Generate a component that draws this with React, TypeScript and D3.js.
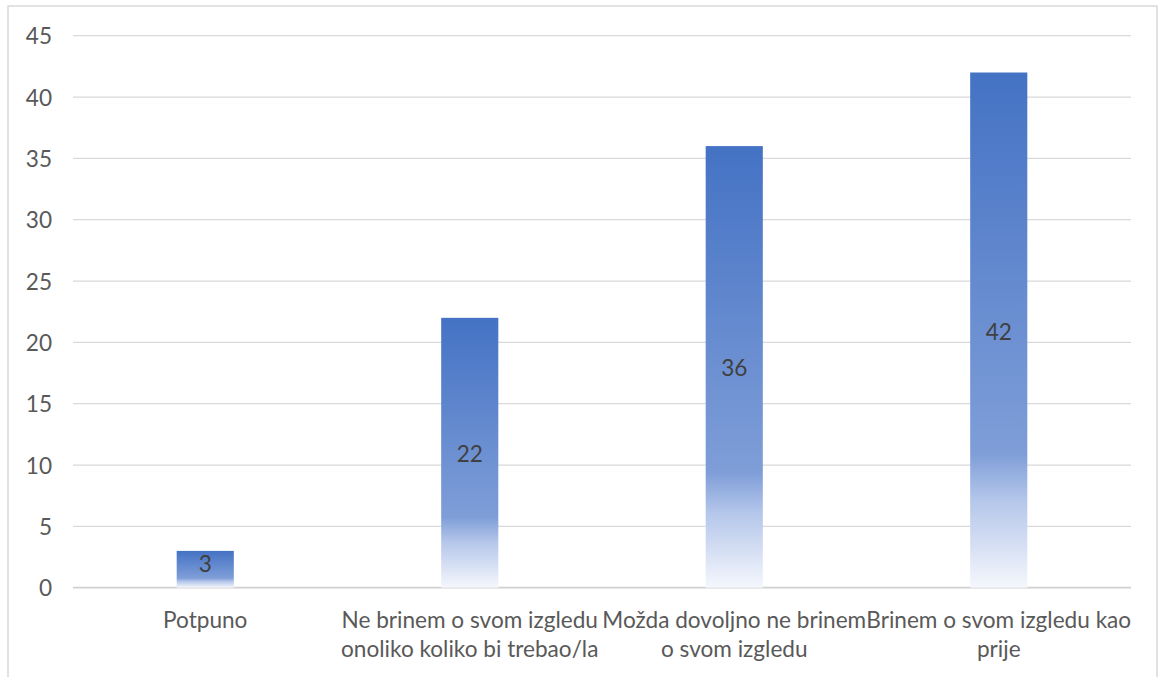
import React from "react";
import * as d3 from "d3";

const categories: string[] = [
  "Potpuno",
  "Ne brinem o svom izgledu\nonoliko koliko bi trebao/la",
  "Možda dovoljno ne brinem\no svom izgledu",
  "Brinem o svom izgledu kao\nprije",
];
const values: number[] = [3, 22, 36, 42];
const yTicks: number[] = [0, 5, 10, 15, 20, 25, 30, 35, 40, 45];

const W = 1160;
const H = 677;
const plotLeft = 73;
const plotRight = 1131;
const plotTop = 35.7;
const plotBottom = 587.7;
const FONT = "Lato, 'Open Sans', sans-serif";
const FS = 22.6;

export default function App() {
  const x = d3
    .scaleBand<string>()
    .domain(categories)
    .range([plotLeft, plotRight])
    .paddingInner(0.784)
    .paddingOuter(0.392);
  const y = d3.scaleLinear().domain([0, 45]).range([plotBottom, plotTop]);

  return (
    <div style={{ position: "absolute", left: 0, top: 0 }}>
      <svg width={W} height={H} style={{ display: "block" }}>
        <defs>
          <linearGradient id="barGrad" x1="0" y1="0" x2="0" y2="1">
            <stop offset="0" stopColor="#4472C4" />
            <stop offset="0.74" stopColor="#7F9ED8" />
            <stop offset="0.83" stopColor="#B4C6EA" />
            <stop offset="1" stopColor="#F5F7FC" />
          </linearGradient>
        </defs>
        <rect x={0} y={0} width={W} height={H} fill="#ffffff" />
        <rect
          x={8}
          y={6}
          width={1149}
          height={H + 10}
          fill="#ffffff"
          stroke="#D9D9D9"
          strokeWidth={1.5}
        />
        {yTicks.map((t) => (
          <g key={t}>
            <line
              x1={plotLeft}
              x2={plotRight}
              y1={y(t)}
              y2={y(t)}
              stroke={t === 0 ? "#D0D0D0" : "#D9D9D9"}
              strokeWidth={t === 0 ? 1.8 : 1.3}
            />
            <text
              x={52}
              y={y(t)}
              textAnchor="end"
              dominantBaseline="central"
              fontFamily={FONT}
              fontSize={FS}
              fill="#595959"
            >
              {t}
            </text>
          </g>
        ))}
        {categories.map((c, i) => {
          const v = values[i];
          const bx = x(c)!;
          const top = y(v);
          const mid = (top + y(0)) / 2;
          const ly = Math.min(mid + 1, y(0) - 24.7);
          return (
            <g key={c}>
              <rect
                x={bx}
                y={top}
                width={x.bandwidth()}
                height={y(0) - top}
                fill="url(#barGrad)"
              />
              <text
                x={bx + x.bandwidth() / 2}
                y={ly}
                textAnchor="middle"
                dominantBaseline="central"
                fontFamily={FONT}
                fontSize={FS}
                fill="#404040"
              >
                {v}
              </text>
            </g>
          );
        })}
        {categories.map((c) => {
          const cx = x(c)! + x.bandwidth() / 2;
          return (
            <text
              key={"l" + c}
              textAnchor="middle"
              fontFamily={FONT}
              fontSize={FS}
              fill="#595959"
            >
              {c.split("\n").map((ln, j) => (
                <tspan key={j} x={cx} y={628 + j * 29}>
                  {ln}
                </tspan>
              ))}
            </text>
          );
        })}
      </svg>
    </div>
  );
}
